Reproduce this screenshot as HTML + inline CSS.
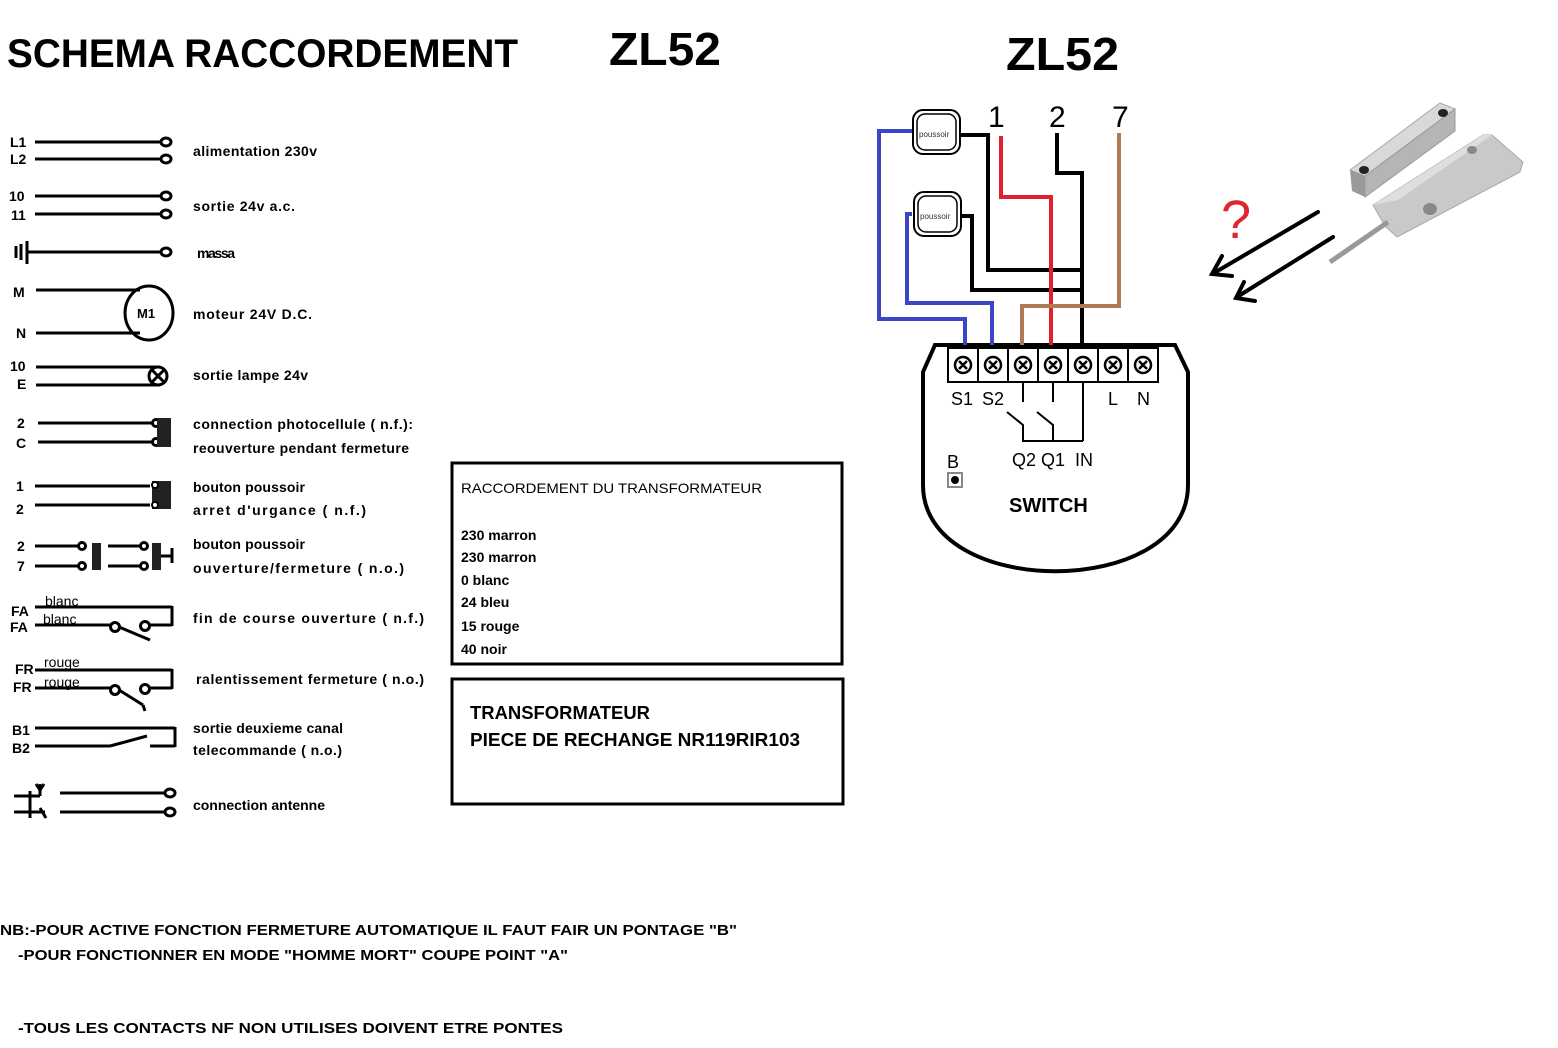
<!DOCTYPE html>
<html><head><meta charset="utf-8"><style>
html,body{margin:0;padding:0;background:#fff;width:1558px;height:1048px;overflow:hidden}
svg{display:block}
text{font-family:"Liberation Sans",sans-serif;font-weight:bold;fill:#000}
</style></head><body>
<svg width="1558" height="1048" viewBox="0 0 1558 1048" xmlns="http://www.w3.org/2000/svg">
<text x="7" y="67" font-size="40" textLength="511" lengthAdjust="spacingAndGlyphs">SCHEMA RACCORDEMENT</text>
<text x="609" y="65" font-size="46" textLength="112" lengthAdjust="spacingAndGlyphs">ZL52</text>
<text x="1006" y="70" font-size="46" textLength="113" lengthAdjust="spacingAndGlyphs">ZL52</text>

<g stroke="#000" stroke-width="3" fill="none">
<line x1="35" y1="142" x2="162" y2="142"/><line x1="35" y1="159" x2="162" y2="159"/>
<ellipse cx="166" cy="142" rx="5" ry="4"/><ellipse cx="166" cy="159" rx="5" ry="4"/>
<line x1="35" y1="196" x2="162" y2="196"/><line x1="35" y1="214" x2="162" y2="214"/>
<ellipse cx="166" cy="196" rx="5" ry="4"/><ellipse cx="166" cy="214" rx="5" ry="4"/>
<line x1="27" y1="252" x2="162" y2="252"/><ellipse cx="166" cy="252" rx="5" ry="4"/>
<line x1="16" y1="246" x2="16" y2="258"/><line x1="21" y1="244" x2="21" y2="260"/><line x1="27" y1="241" x2="27" y2="264"/>
<line x1="36" y1="290" x2="140" y2="290"/><line x1="36" y1="333" x2="140" y2="333"/>
<ellipse cx="149" cy="313" rx="24" ry="27"/>
<line x1="36" y1="367" x2="160" y2="367"/><line x1="36" y1="385" x2="160" y2="385"/>
<circle cx="158" cy="376" r="9"/><line x1="152" y1="370" x2="164" y2="382"/><line x1="164" y1="370" x2="152" y2="382"/>
<line x1="38" y1="423" x2="152" y2="423"/><line x1="38" y1="442" x2="152" y2="442"/>
<circle cx="156" cy="423" r="3.5"/><circle cx="156" cy="442" r="3.5"/>
<line x1="35" y1="486" x2="150" y2="486"/><line x1="35" y1="505" x2="150" y2="505"/>
<line x1="35" y1="546" x2="78" y2="546"/><line x1="35" y1="566" x2="78" y2="566"/>
<circle cx="82" cy="546" r="3.5"/><circle cx="82" cy="566" r="3.5"/>
<line x1="108" y1="546" x2="140" y2="546"/><line x1="108" y1="566" x2="140" y2="566"/>
<circle cx="144" cy="546" r="3.5"/><circle cx="144" cy="566" r="3.5"/>
<line x1="160" y1="556" x2="172" y2="556"/><line x1="172" y1="548" x2="172" y2="563"/>
<line x1="35" y1="607" x2="172" y2="607"/><line x1="172" y1="606" x2="172" y2="626"/>
<line x1="35" y1="625" x2="110" y2="625"/><circle cx="115" cy="627" r="4.5"/><circle cx="145" cy="626" r="4.5"/>
<line x1="119" y1="627" x2="150" y2="640"/><line x1="150" y1="625" x2="172" y2="625"/>
<line x1="35" y1="670" x2="172" y2="670"/><line x1="172" y1="669" x2="172" y2="689"/>
<line x1="35" y1="688" x2="110" y2="688"/><circle cx="115" cy="690" r="4.5"/><circle cx="145" cy="689" r="4.5"/>
<line x1="119" y1="690" x2="143" y2="705"/><line x1="143" y1="705" x2="145" y2="711"/><line x1="150" y1="688" x2="172" y2="688"/>
<line x1="35" y1="728" x2="175" y2="728"/><line x1="175" y1="727" x2="175" y2="747"/>
<line x1="35" y1="746" x2="110" y2="746"/><line x1="110" y1="746" x2="147" y2="736"/><line x1="150" y1="746" x2="175" y2="746"/>
<line x1="60" y1="793" x2="165" y2="793"/><line x1="60" y1="812" x2="165" y2="812"/>
<ellipse cx="170" cy="793" rx="5" ry="4"/><ellipse cx="170" cy="812" rx="5" ry="4"/>
<line x1="14" y1="796" x2="40" y2="796"/><line x1="14" y1="812" x2="45" y2="812"/><line x1="30" y1="791" x2="30" y2="818"/>
<line x1="40" y1="796" x2="40" y2="784"/><line x1="36" y1="784" x2="40" y2="790"/><line x1="44" y1="784" x2="40" y2="790"/>
<line x1="40" y1="808" x2="46" y2="818"/>
</g>
<g fill="#222">
<rect x="157" y="418" width="14" height="29"/>
<rect x="152" y="481" width="19" height="28"/>
<rect x="92" y="543" width="9" height="27"/>
<rect x="152" y="543" width="9" height="27"/>
</g>
<g fill="#fff" stroke="#000" stroke-width="2">
<circle cx="155" cy="485" r="3"/><circle cx="155" cy="505" r="3"/>
</g>

<g font-size="14">
<text x="10" y="147">L1</text><text x="10" y="164">L2</text>
<text x="9" y="201">10</text><text x="11" y="220">11</text>
<text x="13" y="297">M</text><text x="16" y="338">N</text>
<text x="10" y="371">10</text><text x="17" y="389">E</text>
<text x="17" y="428">2</text><text x="16" y="448">C</text>
<text x="16" y="491">1</text><text x="16" y="514">2</text>
<text x="17" y="551">2</text><text x="17" y="571">7</text>
<text x="11" y="616">FA</text><text x="10" y="632">FA</text>
<text x="45" y="606" style="font-weight:normal">blanc</text><text x="43" y="624" style="font-weight:normal">blanc</text>
<text x="15" y="674">FR</text><text x="13" y="692">FR</text>
<text x="44" y="667" style="font-weight:normal">rouge</text><text x="44" y="687" style="font-weight:normal">rouge</text>
<text x="12" y="735">B1</text><text x="12" y="753">B2</text>
<text x="137" y="318" font-size="13">M1</text>
</g>
<g font-size="14" lengthAdjust="spacingAndGlyphs">
<text x="193" y="156" textLength="124">alimentation 230v</text>
<text x="193" y="211" textLength="102">sortie 24v a.c.</text>
<text x="197" y="258" textLength="38">massa</text>
<text x="193" y="319" textLength="119">moteur 24V D.C.</text>
<text x="193" y="380" textLength="115">sortie lampe 24v</text>
<text x="193" y="429" textLength="220">connection photocellule ( n.f.):</text>
<text x="193" y="453" textLength="216">reouverture pendant fermeture</text>
<text x="193" y="492" textLength="112">bouton poussoir</text>
<text x="193" y="515" textLength="173">arret d'urgance ( n.f.)</text>
<text x="193" y="549" textLength="112">bouton poussoir</text>
<text x="193" y="573" textLength="211">ouverture/fermeture ( n.o.)</text>
<text x="193" y="623" textLength="231">fin de course ouverture ( n.f.)</text>
<text x="196" y="684" textLength="228">ralentissement fermeture ( n.o.)</text>
<text x="193" y="733" textLength="150">sortie deuxieme canal</text>
<text x="193" y="755" textLength="149">telecommande ( n.o.)</text>
<text x="193" y="810" textLength="132">connection antenne</text>
</g>

<rect x="452" y="463" width="390" height="201" fill="none" stroke="#000" stroke-width="3"/>
<g font-size="14">
<text x="461" y="493" textLength="301" lengthAdjust="spacingAndGlyphs" style="font-weight:normal">RACCORDEMENT DU TRANSFORMATEUR</text>
<text x="461" y="540">230 marron</text>
<text x="461" y="562">230 marron</text>
<text x="461" y="585">0 blanc</text>
<text x="461" y="607">24 bleu</text>
<text x="461" y="631">15 rouge</text>
<text x="461" y="654">40 noir</text>
</g>
<rect x="452" y="679" width="391" height="125" fill="none" stroke="#000" stroke-width="3"/>
<text x="470" y="719" font-size="18" textLength="180" lengthAdjust="spacingAndGlyphs">TRANSFORMATEUR</text>
<text x="470" y="746" font-size="18" textLength="330" lengthAdjust="spacingAndGlyphs">PIECE DE RECHANGE NR119RIR103</text>

<g font-size="15">
<text x="0" y="935" textLength="737" lengthAdjust="spacingAndGlyphs">NB:-POUR ACTIVE FONCTION FERMETURE AUTOMATIQUE IL FAUT FAIR UN PONTAGE "B"</text>
<text x="18" y="960" textLength="550" lengthAdjust="spacingAndGlyphs">-POUR FONCTIONNER EN MODE "HOMME MORT" COUPE POINT "A"</text>
<text x="18" y="1033" textLength="545" lengthAdjust="spacingAndGlyphs">-TOUS LES CONTACTS NF NON UTILISES DOIVENT ETRE PONTES</text>
</g>

<path d="M935,345 L1175,345 L1188,372 L1188,485 C1188,600 923,600 923,485 L923,372 Z" fill="#fff" stroke="#000" stroke-width="4"/>
<rect x="948" y="348" width="210" height="34" fill="#fff" stroke="#000" stroke-width="2"/>
<g stroke="#000" stroke-width="2" fill="none">
<line x1="978" y1="348" x2="978" y2="382"/><line x1="1008" y1="348" x2="1008" y2="382"/><line x1="1038" y1="348" x2="1038" y2="382"/>
<line x1="1068" y1="348" x2="1068" y2="382"/><line x1="1098" y1="348" x2="1098" y2="382"/><line x1="1128" y1="348" x2="1128" y2="382"/>
</g>
<g stroke="#000" stroke-width="2.5" fill="none">
<circle cx="963" cy="365" r="8"/><circle cx="993" cy="365" r="8"/><circle cx="1023" cy="365" r="8"/><circle cx="1053" cy="365" r="8"/>
<circle cx="1083" cy="365" r="8"/><circle cx="1113" cy="365" r="8"/><circle cx="1143" cy="365" r="8"/>
<path d="M959,361l8,8m0,-8l-8,8 M989,361l8,8m0,-8l-8,8 M1019,361l8,8m0,-8l-8,8 M1049,361l8,8m0,-8l-8,8 M1079,361l8,8m0,-8l-8,8 M1109,361l8,8m0,-8l-8,8 M1139,361l8,8m0,-8l-8,8"/>
</g>
<g stroke="#000" stroke-width="2" fill="none">
<line x1="1023" y1="382" x2="1023" y2="402"/><line x1="1053" y1="382" x2="1053" y2="402"/>
<line x1="1083" y1="382" x2="1083" y2="441"/>
<polyline points="1007,412 1023,425 1023,441 1083,441"/>
<polyline points="1037,412 1053,425 1053,441"/>
<rect x="948" y="473" width="14" height="14" stroke="#888"/>
</g>
<circle cx="955" cy="480" r="4" fill="#000"/>
<g font-size="18">
<text x="951" y="405" style="font-weight:normal">S1</text><text x="982" y="405" style="font-weight:normal">S2</text>
<text x="1108" y="405" style="font-weight:normal">L</text><text x="1137" y="405" style="font-weight:normal">N</text>
<text x="1012" y="466" style="font-weight:normal">Q2</text><text x="1041" y="466" style="font-weight:normal">Q1</text><text x="1075" y="466" style="font-weight:normal">IN</text>
<text x="947" y="468" style="font-weight:normal">B</text>
</g>
<text x="1009" y="512" font-size="20">SWITCH</text>

<g fill="none" stroke-width="4" stroke-linejoin="miter">
<polyline stroke="#3a46c4" points="912,131 879,131 879,319 965,319 965,345"/>
<polyline stroke="#3a46c4" points="912,214 907,214 907,303 992,303 992,345"/>
<polyline stroke="#000" points="960,135 988,135 988,270 1082,270"/>
<polyline stroke="#000" points="960,216 972,216 972,290 1082,290"/>
<polyline stroke="#000" points="1057,133 1057,173 1082,173 1082,345"/>
<polyline stroke="#e0202a" points="1001,136 1001,197 1051,197 1051,345"/>
<polyline stroke="#b07a55" points="1119,133 1119,306 1022,306 1022,345"/>
</g>
<g fill="#fff" stroke="#000">
<rect x="913" y="110" width="47" height="44" rx="10" stroke-width="2"/>
<rect x="917" y="114" width="39" height="36" rx="8" stroke-width="1.5"/>
<rect x="914" y="192" width="47" height="44" rx="10" stroke-width="2"/>
<rect x="918" y="196" width="39" height="36" rx="8" stroke-width="1.5"/>
</g>
<text x="919" y="137" font-size="8" style="font-weight:normal;fill:#333">poussoir</text>
<text x="920" y="219" font-size="8" style="font-weight:normal;fill:#333">poussoir</text>
<g font-size="30">
<text x="988" y="127" style="font-weight:normal">1</text>
<text x="1049" y="127" style="font-weight:normal">2</text>
<text x="1112" y="127" style="font-weight:normal">7</text>
</g>

<!-- sensor -->
<polygon points="1350,170 1440,103 1455,109 1365,176" fill="#d9d9d9" stroke="#aaa"/>
<polygon points="1365,176 1455,109 1455,131 1365,197" fill="#b5b5b5" stroke="#999"/>
<polygon points="1350,170 1365,176 1365,197 1352,191" fill="#9a9a9a"/>
<ellipse cx="1364" cy="170" rx="5" ry="4" fill="#222"/><ellipse cx="1443" cy="113" rx="5" ry="4" fill="#222"/>
<polygon points="1373,205 1483,135 1492,135 1523,162 1520,172 1397,237 1385,226" fill="#c9c9c9" stroke="#aaa"/>
<polygon points="1373,205 1483,135 1492,135 1398,200" fill="#dedede"/>
<ellipse cx="1430" cy="209" rx="7" ry="6" fill="#888"/>
<ellipse cx="1472" cy="150" rx="5" ry="4" fill="#888"/>
<line x1="1388" y1="222" x2="1330" y2="262" stroke="#999" stroke-width="5"/>

<text x="1221" y="238" font-size="54" style="fill:#e02530;font-weight:normal">?</text>
<g stroke="#000" stroke-width="4" fill="none" stroke-linecap="round">
<line x1="1318" y1="212" x2="1214" y2="273"/><polyline points="1222,256 1212,274 1232,276"/>
<line x1="1333" y1="237" x2="1237" y2="297"/><polyline points="1244,282 1236,298 1255,301"/>
</g>
</svg>
</body></html>
